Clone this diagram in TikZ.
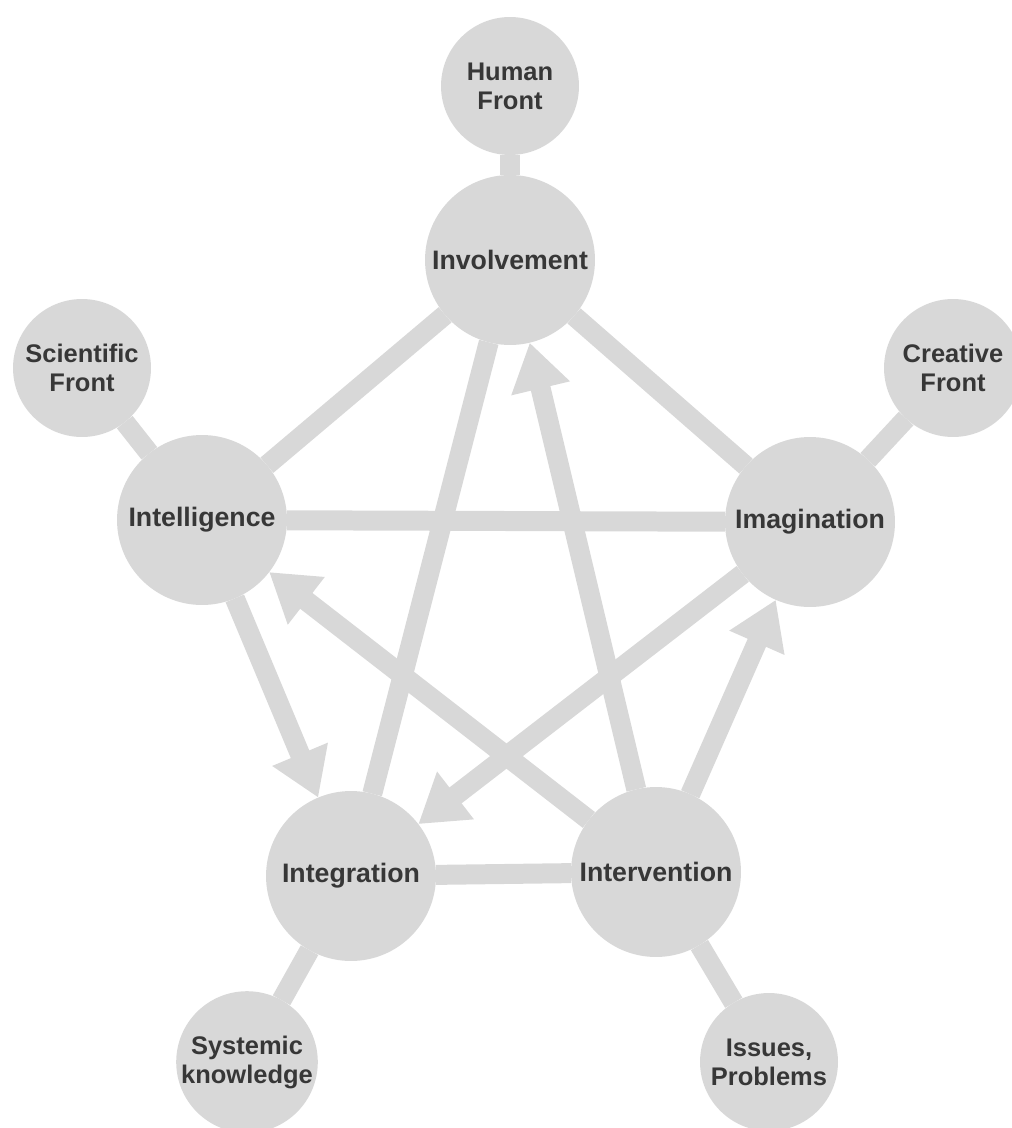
\documentclass[tikz,border=0pt]{standalone}
\usepackage{fontspec}
\setmainfont{Liberation Sans}
\usetikzlibrary{arrows.meta}
\definecolor{discgray}{RGB}{216,216,216}
\definecolor{labelgray}{RGB}{55,55,55}

\begin{document}
\begin{tikzpicture}[x=0.02cm, y=-0.02cm,
    hub/.style={circle, fill=discgray, minimum size=3.4cm, inner sep=0pt, outer sep=0pt,
        text=labelgray, font=\fontsize{15.2}{16.5}\selectfont\bfseries, align=center},
    front/.style={hub, minimum size=2.76cm, font=\fontsize{14.5}{16.5}\selectfont\bfseries},
    link/.style={draw=discgray, line width=0.4cm},
    flow/.style={link, -{Triangle[width=1.14cm,length=0.94cm]}}]
    \useasboundingbox (0,0) rectangle (1011,1128);

    % the five I's
    \node[hub] (involve) at (510,260) {Involvement};
    \node[hub] (intell) at (202,520) {Intelligence};
    \node[hub] (imagin) at (810,522) {Imagination};
    \node[hub] (integr) at (351,876) {Integration};
    \node[hub] (interv) at (656,872) {Intervention};

    % the fronts
    \node[front] (human) at (510,86) {Human\\Front};
    \node[front] (science) at (82,368) {Scientific\\Front};
    \node[front] (create) at (953,368) {Creative\\Front};
    \node[front] (systemic) at (247,1062) {Systemic\\knowledge};
    \node[front] (issues) at (769,1062) {Issues,\\Problems};

    \draw[link] (human) -- (involve);
    \draw[link] (science) -- (intell);
    \draw[link] (create) -- (imagin);
    \draw[link] (systemic) -- (integr);
    \draw[link] (issues) -- (interv);

    \draw[link] (involve) -- (intell);
    \draw[link] (involve) -- (imagin);
    \draw[link] (intell) -- (imagin);
    \draw[link] (integr) -- (interv);
    \draw[link] (involve) -- (integr);

    \draw[flow] (interv) -- (involve);
    \draw[flow] (interv) -- (intell);
    \draw[flow] (interv) -- (imagin);
    \draw[flow] (intell) -- (integr);
    \draw[flow] (imagin) -- (integr);
\end{tikzpicture}
\end{document}
